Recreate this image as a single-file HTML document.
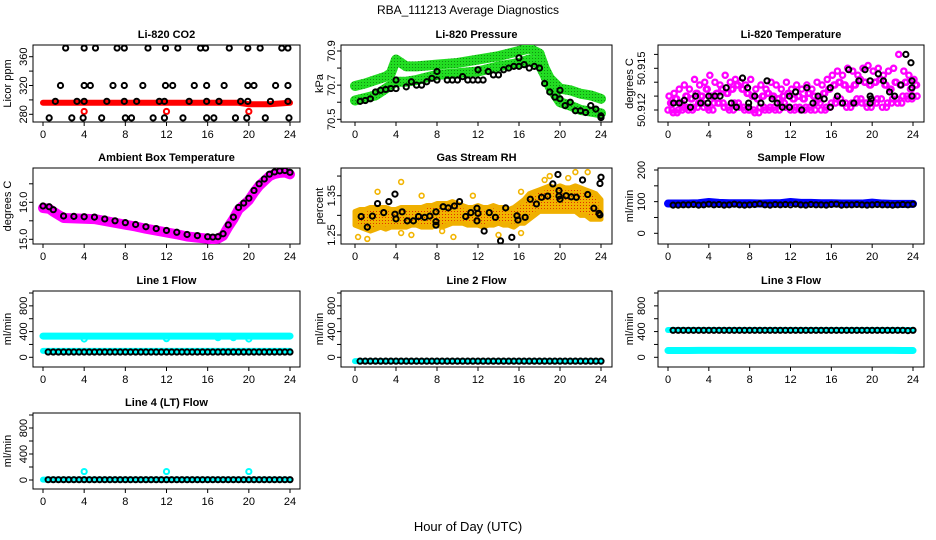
<!DOCTYPE html>
<html><head><meta charset="utf-8"><style>
html,body{margin:0;padding:0;background:#fff;}
svg{display:block;font-family:"Liberation Sans",Arial,sans-serif;}
</style></head><body>
<svg id="c" width="936" height="540" viewBox="0 0 936 540">
<rect width="936" height="540" fill="#fff"/>
<text x="468" y="14" font-size="12" text-anchor="middle">RBA_111213  Average Diagnostics</text>
<text x="468" y="531" font-size="13" text-anchor="middle">Hour of Day (UTC)</text>
</svg>
<script>
// ---------- DATA ----------
const xTicks = [0,4,8,12,16,20,24];
// CO2
const co2RedHours = [0,1,2,3,4,5,6,7,8,9,10,11,12,13,14,15,16,17,18,19,20,21,22,23,24];
const co2Red = [296,296,296,296,296,296,296,296,296,296,296,296,296,296,296,296,296,296,296,296,294,294,294,295,296];
const co2OutHours = [4,12,20];
const co2Out = [284,284,284];
const co2BlackHours = [2.2,4.0,5.1,7.2,7.9,10.2,11.9,13.1,15.3,15.8,18.1,19.9,21.1,23.2,23.8,
 1.7,4.0,4.6,6.8,7.9,9.7,11.9,12.6,14.7,15.9,17.6,19.9,20.5,22.6,23.8,
 1.2,3.3,4.0,6.2,7.9,9.1,11.3,11.8,14.2,15.9,17.1,19.2,19.9,22.1,23.8,
 0.6,2.8,3.9,5.7,8.0,8.6,10.7,11.8,13.6,15.9,16.6,18.7,19.8,21.6,23.9];
const co2Black = [372,372,372,372,372,372,372,372,372,372,372,372,372,372,372,
 320,320,320,320,320,320,320,320,320,320,320,320,320,320,320,
 298,298,298,298,298,298,298,298,298,298,298,298,298,298,298,
 275,275,275,275,275,275,275,275,275,275,275,275,275,275,275];
// Pressure
const presBandHours = [0,1,2,3,3.5,4,5,6,8,10,12,14,16,17,18,18.5,19,20,21,22,23,24];
const presUpper = [70.695,70.71,70.73,70.75,70.77,70.85,70.81,70.81,70.82,70.83,70.85,70.87,70.90,70.915,70.885,70.80,70.74,70.68,70.67,70.65,70.64,70.62];
const presLower = [70.61,70.625,70.64,70.68,70.70,70.72,70.72,70.73,70.76,70.77,70.78,70.81,70.83,70.85,70.82,70.76,70.69,70.60,70.58,70.555,70.545,70.535];
const presBlackHours = [0.5,1,1.5,2,2.5,3,3.5,4,4,5,5.5,6,6.5,7,7.5,8,8,9,9.5,10,10.5,11,11.5,12,12,12.5,13,13.5,14,14.5,15,15.5,16,16,16.5,17,17.5,18,18.5,19,19.5,20,20,20.5,21,21.5,22,22.5,23,23.5,24,24];
const presBlack = [70.605,70.61,70.62,70.66,70.67,70.675,70.68,70.68,70.73,70.69,70.72,70.70,70.70,70.72,70.74,70.78,70.73,70.73,70.73,70.73,70.75,70.73,70.73,70.79,70.73,70.73,70.78,70.76,70.76,70.79,70.80,70.81,70.86,70.81,70.82,70.80,70.81,70.80,70.71,70.66,70.63,70.67,70.62,70.58,70.60,70.55,70.55,70.54,70.58,70.56,70.51,70.52];
// Li-820 temperature (magenta cloud, 0.5 h steps)
const tempLo = [50.9120,50.9118,50.9120,50.9122,50.9120,50.9122,50.9125,50.9122,50.9120,50.9125,50.9125,50.9122,50.9120,50.9125,50.9122,50.9120,50.9120,50.9118,50.9122,50.9120,50.9122,50.9120,50.9125,50.9122,50.9120,50.9122,50.9120,50.9122,50.9120,50.9125,50.9120,50.9122,50.9125,50.9128,50.9125,50.9122,50.9125,50.9128,50.9125,50.9122,50.9125,50.9128,50.9122,50.9125,50.9128,50.9125,50.9130,50.9128,50.9130];
const tempMid = [50.9125,50.9128,50.9125,50.9130,50.9128,50.9132,50.9130,50.9135,50.9130,50.9132,50.9135,50.9132,50.9135,50.9138,50.9135,50.9132,50.9130,50.9128,50.9130,50.9132,50.9130,50.9128,50.9130,50.9132,50.9128,50.9130,50.9128,50.9132,50.9130,50.9128,50.9132,50.9135,50.9138,50.9140,50.9138,50.9135,50.9138,50.9142,50.9140,50.9138,50.9140,50.9142,50.9138,50.9135,50.9140,50.9138,50.9140,50.9135,50.9138];
const tempHi = [50.9130,50.9132,50.9135,50.9138,50.9135,50.9142,50.9138,50.9140,50.9145,50.9140,50.9138,50.9145,50.9140,50.9142,50.9140,50.9138,50.9142,50.9135,50.9138,50.9135,50.9140,50.9138,50.9135,50.9140,50.9135,50.9138,50.9135,50.9138,50.9135,50.9140,50.9138,50.9142,50.9145,50.9148,50.9145,50.9150,50.9148,50.9145,50.9150,50.9152,50.9148,50.9150,50.9145,50.9148,50.9150,50.9160,50.9148,50.9145,50.9142];
const tempBlackHours = [0.55,1.1,1.6,2.2,2.7,3.2,3.9,4.0,4.6,5.1,5.7,6.2,6.7,7.3,7.8,7.9,7.9,8.5,9.1,9.7,10.2,10.7,11.2,11.9,11.9,12.5,13.1,13.6,14.2,14.7,15.3,15.9,15.9,16.6,17.1,17.7,18.2,18.7,19.3,19.8,19.8,19.8,19.9,20.6,21.1,21.7,22.2,22.8,23.3,23.8,23.9,23.9,23.9];
const tempBlack = [50.9125,50.9125,50.9127,50.9122,50.9130,50.9125,50.9125,50.9130,50.9130,50.9130,50.9136,50.9125,50.9122,50.9143,50.9136,50.9125,50.9122,50.9130,50.9125,50.9141,50.9128,50.9125,50.9122,50.9130,50.9122,50.9133,50.9120,50.9136,50.9125,50.9130,50.9128,50.9122,50.9136,50.9130,50.9125,50.9149,50.9125,50.9141,50.9149,50.9141,50.9130,50.9125,50.9128,50.9146,50.9141,50.9133,50.9130,50.9138,50.9160,50.9154,50.9141,50.9136,50.9130];
// Ambient box temperature
const ambHours = [0,0.6,1,2,3,4,5,6,7,8,9,10,11,12,13,14,15,16,16.5,17,17.5,18,18.5,19,19.5,20,20.5,21,21.5,22,22.5,23,23.5,24];
const ambTemp = [15.90,15.88,15.80,15.63,15.62,15.61,15.60,15.55,15.50,15.45,15.40,15.34,15.29,15.24,15.19,15.13,15.10,15.07,15.06,15.07,15.15,15.39,15.60,15.86,15.98,16.11,16.32,16.50,16.63,16.76,16.82,16.85,16.86,16.81];
// Gas stream RH (band at 0.5 h steps)
const rhLo = [1.275,1.27,1.265,1.26,1.265,1.27,1.265,1.27,1.27,1.27,1.27,1.275,1.275,1.27,1.27,1.27,1.275,1.27,1.275,1.28,1.28,1.28,1.275,1.275,1.275,1.27,1.275,1.275,1.28,1.275,1.275,1.27,1.28,1.28,1.29,1.30,1.31,1.31,1.31,1.31,1.31,1.31,1.31,1.31,1.30,1.30,1.29,1.29,1.29];
const rhHi = [1.31,1.315,1.315,1.32,1.32,1.32,1.32,1.315,1.315,1.32,1.32,1.32,1.32,1.32,1.325,1.325,1.33,1.33,1.33,1.335,1.33,1.325,1.32,1.32,1.325,1.32,1.32,1.325,1.32,1.32,1.315,1.32,1.33,1.34,1.355,1.36,1.365,1.37,1.375,1.37,1.375,1.37,1.37,1.375,1.37,1.365,1.36,1.355,1.34];
const rhOutHours = [2.2,4.5,6.5,11.5,16.2,19,21.5,22.7,4.5,5.5,8.5,9.6,14,16.2,0.3,1.2,18.5,20.8];
const rhOut = [1.36,1.385,1.35,1.35,1.36,1.40,1.41,1.41,1.255,1.25,1.26,1.245,1.25,1.255,1.245,1.24,1.39,1.395];
const rhBlackHours = [0.6,1.2,1.7,2.2,2.8,3.3,3.9,3.9,4.0,4.6,5.1,5.7,6.2,6.8,7.3,7.9,7.9,7.9,8.6,9.1,9.7,10.2,10.8,11.3,11.9,11.9,12.0,12.6,13.1,13.7,14.2,14.7,15.3,15.8,15.9,16.6,17.1,17.7,18.2,18.8,19.3,19.8,19.9,19.9,20.0,20.6,21.1,21.6,22.2,22.7,23.3,23.8,23.9,24.0,23.9];
const rhBlack = [1.297,1.27,1.298,1.33,1.307,1.335,1.354,1.303,1.291,1.309,1.286,1.286,1.297,1.295,1.298,1.309,1.284,1.275,1.322,1.319,1.324,1.335,1.297,1.307,1.318,1.286,1.305,1.26,1.307,1.295,1.235,1.319,1.244,1.299,1.288,1.295,1.341,1.329,1.346,1.349,1.38,1.404,1.363,1.349,1.341,1.35,1.347,1.346,1.39,1.353,1.318,1.305,1.301,1.397,1.381];
// Sample flow
const sampBlueHours = [0,1,2,3,4,5,6,7,8,9,10,11,12,13,14,15,16,17,18,19,20,21,22,23,24];
const sampBlue = [94,94,94,95,99,96,95,95,95,94,95,95,99,96,96,95,95,94,94,94,97,94,93,93,93];
const sampBlack = [89,89,90,90,91,89,90,92,90,91,89,90,92,90,89,90,91,93,90,89,91,90,91,90,92,90,89,91,90,90,89,91,92,89,90,90,91,90,89,90,91,90,90,89,90,91,90,92];
// Line flows
const flowCyanHours = [0,1,2,3,4,5,6,7,8,9,10,11,12,13,14,15,16,17,18,19,20,21,22,23,24];
const line1CyanHi = [330,330,330,330,330,330,330,330,330,330,330,330,330,330,330,330,330,330,330,330,330,330,330,330,330];
const line1CyanLo = [100,100,100,100,100,100,100,100,100,100,100,100,100,100,100,100,100,100,100,100,100,100,100,100,100];
const line1DipHours = [4,12,20,17,18.5];
const line1Dip = [285,290,285,305,305];
const line1Black = [82,82,82,82,82,82,82,82,82,82,82,82,82,82,82,82,82,82,82,82,82,82,82,82,82,82,82,82,82,82,82,82,82,82,82,82,82,82,82,82,82,82,82,82,82,82,82,82];
const line2Cyan = [-60,-60,-60,-60,-60,-60,-60,-60,-60,-60,-60,-60,-60,-60,-60,-60,-60,-60,-60,-60,-60,-60,-60,-60,-60];
const line2Black = [-60,-60,-60,-60,-60,-60,-60,-60,-60,-60,-60,-60,-60,-60,-60,-60,-60,-60,-60,-60,-60,-60,-60,-60,-60,-60,-60,-60,-60,-60,-60,-60,-60,-60,-60,-60,-60,-60,-60,-60,-60,-60,-60,-60,-60,-60,-60,-60];
const line3CyanHi = [425,425,425,425,425,425,425,425,425,425,425,425,425,425,425,425,425,425,425,425,425,425,425,425,425];
const line3CyanLo = [105,105,105,108,108,108,108,108,108,108,108,108,108,108,108,108,108,108,108,108,108,108,108,105,105];
const line3Black = [420,420,420,420,420,420,420,420,420,420,420,420,420,420,420,420,420,420,420,420,420,420,420,420,420,420,420,420,420,420,420,420,420,420,420,420,420,420,420,420,420,420,420,420,420,420,415,420];
const line4Cyan = [5,5,5,5,5,5,5,5,5,5,5,5,5,5,5,5,5,5,5,5,5,5,5,5,5];
const line4OutHours = [4,12,20];
const line4Out = [130,130,130];
const line4Black = [5,5,5,5,5,5,5,5,5,5,5,5,5,5,5,5,5,5,5,5,5,5,5,5,5,5,5,5,5,5,5,5,5,5,5,5,5,5,5,5,5,5,5,5,5,5,5,5];

// ---------- DRAWING ----------
const NS='http://www.w3.org/2000/svg';
const svg=document.getElementById('c');
function el(tag,attrs,parent){const e=document.createElementNS(NS,tag);for(const k in attrs)e.setAttribute(k,attrs[k]);(parent||svg).appendChild(e);return e;}
const cols=[{l:33,r:300,x0:43,x24:290,yl:11,tl:27},{l:341,r:612,x0:355,x24:601,yl:323,tl:335},{l:658,r:924,x0:668,x24:913,yl:633,tl:645}];
const rows=[{t:45,b:122},{t:168,b:244},{t:291,b:367},{t:413,b:489}];
function halfHours(n,start){const a=[];for(let i=0;i<n;i++)a.push(start+i*0.5);return a;}

function panel(name,title,col,row,v1,p1,v2,p2,ticks,labels,ylab){
  const C=cols[col],R=rows[row];
  const g=el('g',{});
  
  
  const sx=h=>C.x0+(C.x24-C.x0)*h/24;
  const sy=v=>p1+(v-v1)*(p2-p1)/(v2-v1);
  const t=el('text',{x:(C.l+C.r)/2,y:R.t-7,'font-size':11,'font-weight':'bold','text-anchor':'middle'},g);
  t.textContent=title;
  
  
  const box=el('rect',{x:C.l,y:R.t,width:C.r-C.l,height:R.b-R.t,fill:'none',stroke:'#000','stroke-width':1},g);
  
  
  const xa=el('g',{},g);
  
  
  el('line',{x1:sx(0),x2:sx(24),y1:R.b,y2:R.b,stroke:'#000'},xa);
  xTicks.forEach(h=>{
    el('line',{x1:sx(h),x2:sx(h),y1:R.b,y2:R.b+4,stroke:'#000'},xa);
    const tl=el('text',{x:sx(h),y:R.b+16,'font-size':11,'text-anchor':'middle'},xa);
    tl.textContent=h;
  });
  const ya=el('g',{},g);
  
  
  const ys=ticks.map(sy);
  el('line',{x1:C.l,x2:C.l,y1:Math.min(...ys),y2:Math.max(...ys),stroke:'#000'},ya);
  ticks.forEach(v=>el('line',{x1:C.l-4,x2:C.l,y1:sy(v),y2:sy(v),stroke:'#000'},ya));
  labels.forEach(v=>{
    const y=sy(parseFloat(v));
    const tl=el('text',{x:C.tl,y:y,'font-size':11,'text-anchor':'middle',transform:`rotate(-90 ${C.tl} ${y})`},ya);
    tl.textContent=v;
  });
  const yt=el('text',{x:C.yl,y:(R.t+R.b)/2,'font-size':11,'text-anchor':'middle',transform:`rotate(-90 ${C.yl} ${(R.t+R.b)/2})`},g);
  yt.textContent=ylab;
  
  
  const clip='clip-'+name;
  const cp=el('clipPath',{id:clip},g);el('rect',{x:C.l,y:R.t,width:C.r-C.l,height:R.b-R.t},cp);
  const data=el('g',{'clip-path':`url(#${clip})`},g);
  return {sx,sy,g:data,name};
}
function pts(P,hours,vals,color,label,r,sw){
  const g=el('g',{},P.g);
  
  
  vals.forEach((v,i)=>{
    const c=el('circle',{cx:P.sx(hours[i]),cy:P.sy(v),r:r||2.6,fill:'none',stroke:color,'stroke-width':sw||2},g);
    
    
  });
}
function band(P,hours,vals,color,label,w,dy){
  const d=vals.map((v,i)=>(i?'L':'M')+P.sx(hours[i])+','+(P.sy(v)+(dy||0))).join('');
  const p=el('path',{d:d,fill:'none',stroke:color,'stroke-width':w,'stroke-linecap':'round','stroke-linejoin':'round'},P.g);
  
  
}
function range(P,hours,lo,hi,fill,label){
  const up=hi.map((v,i)=>P.sx(hours[i])+','+P.sy(v));
  const dn=lo.map((v,i)=>P.sx(hours[i])+','+P.sy(v)).reverse();
  const p=el('polygon',{points:up.concat(dn).join(' '),fill:fill,stroke:'#f0b000','stroke-width':5,'stroke-linejoin':'round'},P.g);
  
  
}
const defs=el('defs',{});
const pat=el('pattern',{id:'rhpat',width:3,height:3,patternUnits:'userSpaceOnUse'},defs);
el('rect',{width:3,height:3,fill:'#f2b400'},pat);
el('rect',{x:1,y:1,width:1,height:1,fill:'#e03000'},pat);
const gpat=el('pattern',{id:'gpat',width:3,height:3,patternUnits:'userSpaceOnUse'},defs);
el('rect',{width:3,height:3,fill:'#22dd22'},gpat);
el('rect',{x:1,y:1,width:1,height:1,fill:'#109010'},gpat);

let P=panel('co2','Li-820 CO2',0,0,360,56.7,280,114.3,[280,300,320,340,360],['280','320','360'],'Licor ppm');
band(P,co2RedHours,co2Red,'#ff0000','red-band',6);
pts(P,co2OutHours,co2Out,'#ff0000','red-outliers');
pts(P,co2BlackHours,co2Black,'#000','black-points');

P=panel('pressure','Li-820 Pressure',1,0,70.9,51,70.5,119.3,[70.5,70.6,70.7,70.8,70.9],['70.5','70.7','70.9'],'kPa');
band(P,presBandHours,presUpper,'url(#gpat)','upper-green-band',10);
band(P,presBandHours,presLower,'url(#gpat)','lower-green-band',10);
pts(P,presBlackHours,presBlack,'#000','black-points');

P=panel('li820-temp','Li-820 Temperature',2,0,50.915,68.3,50.912,110,[50.912,50.913,50.914,50.915,50.916],['50.912','50.915'],'degrees C');
pts(P,halfHours(49,0),tempLo,'#ff00ff','magenta-low',2.6,2.3);
pts(P,halfHours(49,0.25),tempMid,'#ff00ff','magenta-mid',2.6,2.3);
pts(P,halfHours(49,0.1),tempHi,'#ff00ff','magenta-high',2.6,2.3);
pts(P,halfHours(49,0.35),tempMid,'#ff00ff','magenta-mid2',2.6,2.3);
pts(P,halfHours(49,0.4),tempLo,'#ff00ff','magenta-low2',2.6,2.3);
pts(P,tempBlackHours,tempBlack,'#000','black-points');

P=panel('ambient-temp','Ambient Box Temperature',0,1,16,202.3,15,239.3,[15,15.5,16,16.5],['15.0','16.0'],'degrees C');
band(P,ambHours,ambTemp,'#ff00ff','magenta-band',10,2);
pts(P,ambHours,ambTemp,'#000','black-points');

P=panel('gas-rh','Gas Stream RH',1,1,1.35,195.7,1.25,235,[1.25,1.3,1.35,1.4],['1.25','1.35'],'percent');
range(P,halfHours(49,0),rhLo,rhHi,'url(#rhpat)','orange-cloud');
pts(P,rhOutHours,rhOut,'#f2b400','orange-outliers',2.4,1.6);
pts(P,rhBlackHours,rhBlack,'#000','black-points');

P=panel('sample-flow','Sample Flow',2,1,200,170,0,233.3,[0,50,100,150,200],['0','100','200'],'ml/min');
band(P,sampBlueHours,sampBlue,'#0000ff','blue-band',8);
pts(P,halfHours(48,0.5),sampBlack,'#000','black-points');

const flowTicks=[0,200,400,600,800,1000],flowLabels=['0','400','800'];
P=panel('line1-flow','Line 1 Flow',0,2,0,357.3,1000,293,flowTicks,flowLabels,'ml/min');
band(P,flowCyanHours,line1CyanHi,'#00ffff','cyan-high',7);
band(P,flowCyanHours,line1CyanLo,'#00ffff','cyan-low',6);
pts(P,line1DipHours,line1Dip,'#00ffff','cyan-dips');
pts(P,halfHours(48,0.5),line1Black,'#000','black-points');
P=panel('line2-flow','Line 2 Flow',1,2,0,357.3,1000,293,flowTicks,flowLabels,'ml/min');
band(P,flowCyanHours,line2Cyan,'#00ffff','cyan-band',6);
pts(P,halfHours(48,0.5),line2Black,'#000','black-points');
P=panel('line3-flow','Line 3 Flow',2,2,0,357.3,1000,293,flowTicks,flowLabels,'ml/min');
band(P,flowCyanHours,line3CyanHi,'#00ffff','cyan-high',6);
band(P,flowCyanHours,line3CyanLo,'#00ffff','cyan-low',7);
pts(P,halfHours(48,0.5),line3Black,'#000','black-points');

P=panel('line4-flow','Line 4 (LT) Flow',0,3,0,480,1000,415,flowTicks,flowLabels,'ml/min');
band(P,flowCyanHours,line4Cyan,'#00ffff','cyan-band',6);
pts(P,line4OutHours,line4Out,'#00ffff','cyan-outliers');
pts(P,halfHours(48,0.5),line4Black,'#000','black-points');
</script>
</body></html>
